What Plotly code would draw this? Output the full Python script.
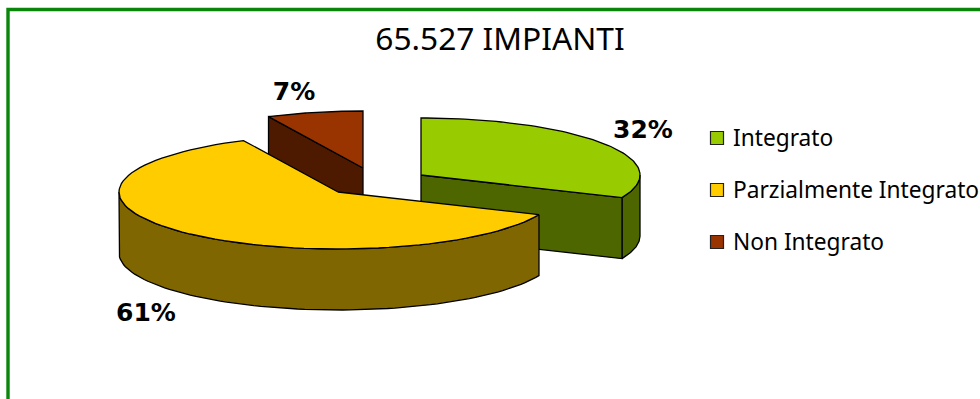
import numpy as np
import plotly.graph_objects as go

# Data
title_text = "65.527 IMPIANTI"
categories = ["Integrato", "Parzialmente Integrato", "Non Integrato"]
values = [31.5, 61.4, 7.1]
value_labels = ["32%", "61%", "7%"]

# Styles / layout
top_colors = ["#99CC00", "#FFCC00", "#993300"]
side_colors = ["#4D6600", "#806600", "#4D1A00"]
centers = [(421, 175), (338, 192), (363, 168)]   # exploded slice apex, in page pixels
label_pos = [(643, 132), (146, 315), (294, 94)]
legend_y = [140, 192, 244]
RX, RY, DEPTH = 219, 57, 61
FONT = "Noto Sans"
LABEL_FONT = "DejaVu Sans"
EDGE = dict(color="#000000", width=1.3)


def rim(c, a0, a1, n=80):
    """Points on the ellipse; angle in degrees clockwise from 12 o'clock."""
    t = np.radians(np.linspace(a0, a1, n))
    return c[0] + RX * np.sin(t), c[1] - RY * np.cos(t)


def poly(x, y, color, name):
    return go.Scatter(x=list(x), y=list(y), mode="lines", fill="toself", fillcolor=color,
                      line=EDGE, hoverinfo="skip", showlegend=False, name=name)


def side_of_rim(c, a0, a1, color, name):
    x, y = rim(c, a0, a1)
    return poly(np.r_[x, x[::-1], x[0]], np.r_[y, y[::-1] + DEPTH, y[0]], color, name)


def cut_face(c, a, color, name):
    x, y = rim(c, a, a, 1)
    px = [c[0], x[0], x[0], c[0], c[0]]
    py = [c[1], y[0], y[0] + DEPTH, c[1] + DEPTH, c[1]]
    return poly(px, py, color, name)


def top_face(c, a0, a1, color, name):
    x, y = rim(c, a0, a1)
    return poly(np.r_[c[0], x, c[0]], np.r_[c[1], y, c[1]], color, name)


# Slice angles from the values
total = sum(values)
edges = np.r_[0, np.cumsum(values)] * 360.0 / total
ang = {n: (edges[i], edges[i + 1]) for i, n in enumerate(categories)}

fig = go.Figure()

# Painter's order: back slice, right slice, front slice
i = 2
a0, a1 = ang[categories[i]]
fig.add_trace(cut_face(centers[i], a0, side_colors[i], categories[i]))
fig.add_trace(top_face(centers[i], a0, a1, top_colors[i], categories[i]))

i = 0
a0, a1 = ang[categories[i]]
fig.add_trace(side_of_rim(centers[i], 90, a1, side_colors[i], categories[i]))
fig.add_trace(cut_face(centers[i], a1, side_colors[i], categories[i]))
fig.add_trace(top_face(centers[i], a0, a1, top_colors[i], categories[i]))

i = 1
a0, a1 = ang[categories[i]]
fig.add_trace(side_of_rim(centers[i], a0, 270, side_colors[i], categories[i]))
fig.add_trace(top_face(centers[i], a0, a1, top_colors[i], categories[i]))

# Percentage labels
fig.add_trace(go.Scatter(
    x=[p[0] for p in label_pos], y=[p[1] for p in label_pos], mode="text",
    text=[f"<b>{t}</b>" for t in value_labels],
    textfont=dict(family=LABEL_FONT, size=25, color="#000000"),
    hoverinfo="skip", showlegend=False))

# Legend keys and labels
fig.add_trace(go.Scatter(
    x=[717] * 3, y=[y - 2 for y in legend_y], mode="markers",
    marker=dict(symbol="square", size=13, color=top_colors, line=dict(color="#222222", width=1.2)),
    hoverinfo="skip", showlegend=False))
fig.add_trace(go.Scatter(
    x=[733] * 3, y=legend_y, mode="text",
    text=categories, textposition="middle right",
    textfont=dict(family=FONT, size=22.7, color="#000000"),
    hoverinfo="skip", showlegend=False))

fig.update_layout(
    width=980, height=399, margin=dict(l=0, r=0, t=0, b=0),
    paper_bgcolor="white", plot_bgcolor="white", showlegend=False,
    title=dict(text=title_text, x=500 / 980, xanchor="center", y=1 - 39 / 399, yanchor="middle",
               font=dict(family=FONT, size=31.7, color="#000000")),
    xaxis=dict(range=[0, 980], visible=False, fixedrange=True),
    yaxis=dict(range=[399, 0], visible=False, fixedrange=True),
    shapes=[dict(type="rect", xref="x", yref="y", x0=8, y0=9.5, x1=1100, y1=600,
                 line=dict(color="#0A870A", width=3.4), layer="below")],
)

fig.write_html("out.html", config=dict(displayModeBar=False),
               post_script="document.body.style.margin='0';document.documentElement.style.overflow='hidden';")
